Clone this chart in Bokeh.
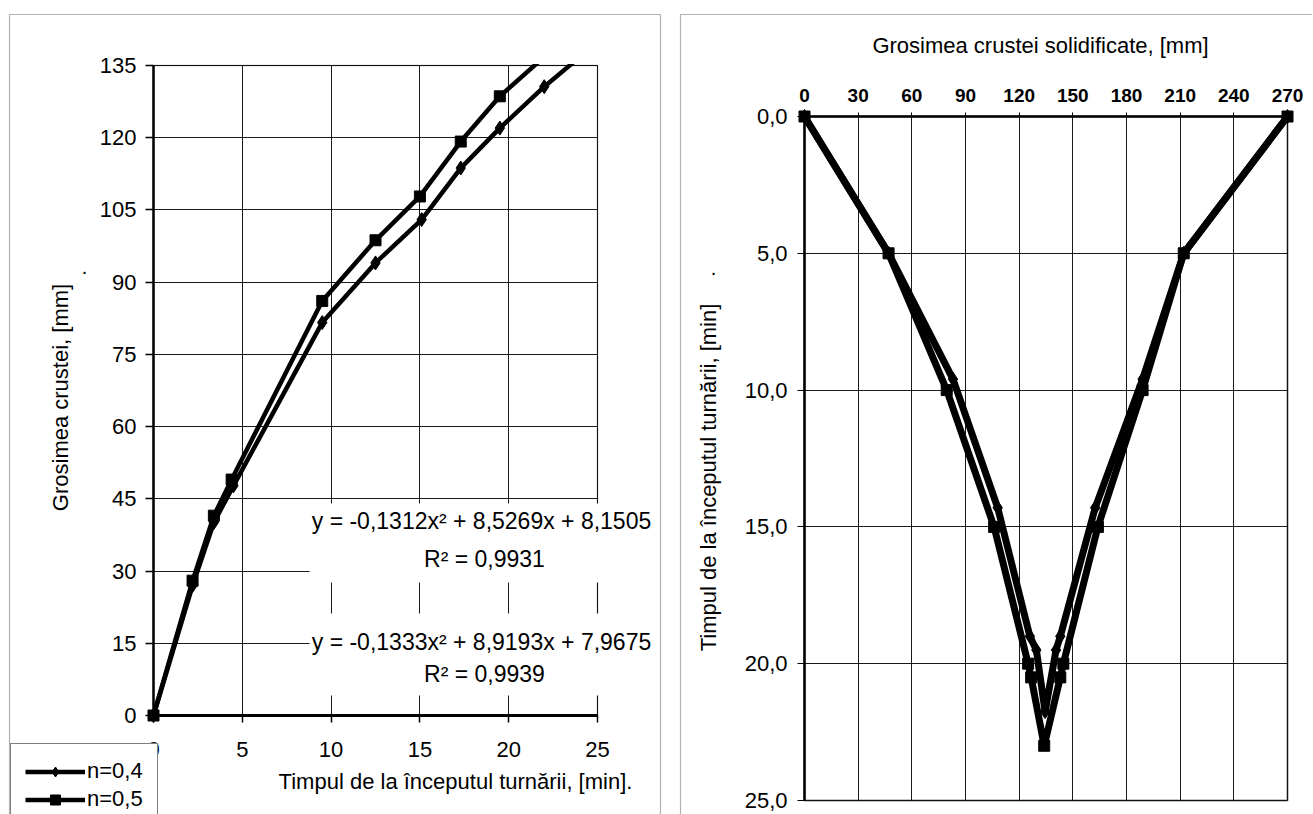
import math
from bokeh.plotting import figure
from bokeh.models import Range1d, FixedTicker, Label, Legend, LegendItem, BoxAnnotation
from bokeh.layouts import row
from bokeh.embed import file_html
from bokeh.resources import INLINE

FONT = "Liberation Sans"

# ---------------- data: left chart (crust thickness vs. time) ----------------
time_n04 = [0, 2.2, 3.4, 4.5, 9.5, 12.5, 15.1, 17.3, 19.5, 22.0, 24.5]
thick_n04 = [0, 27.0, 40.1, 47.7, 81.6, 94.0, 103.0, 113.7, 122.0, 130.6, 138.3]
time_n05 = [0, 2.2, 3.4, 4.4, 9.5, 12.5, 15.0, 17.3, 19.5, 22.0]
thick_n05 = [0, 28.0, 41.5, 49.0, 86.1, 98.7, 107.8, 119.2, 128.6, 136.8]
series_names = ["n=0,4", "n=0,5"]
x_ticks_left = [0, 5, 10, 15, 20, 25]
y_ticks_left = [0, 15, 30, 45, 60, 75, 90, 105, 120, 135]
eq_n04 = "y = -0,1312x² + 8,5269x + 8,1505"
r2_n04 = "R² = 0,9931"
eq_n05 = "y = -0,1333x² + 8,9193x + 7,9675"
r2_n05 = "R² = 0,9939"
xtitle_left = "Timpul de la începutul turnării, [min]."
ytitle_left = "Grosimea crustei, [mm]"

# ---------------- data: right chart (solidified crust profile) ----------------
time_r_n04 = [0, 5.0, 9.6, 14.3, 19.0, 19.5, 21.75]
left_r_n04 = [0, 47, 83, 108, 126, 129.6, 134.5]
right_r_n04 = [270, 212, 189, 162.5, 143, 140.6, 134.5]
time_r_n05 = [0, 5.0, 10.0, 15.0, 20.0, 20.5, 23.0]
left_r_n05 = [0, 47, 79.5, 106, 125, 126.7, 134]
right_r_n05 = [270, 212, 189, 164, 144.7, 143, 134]
x_ticks_right = [0, 30, 60, 90, 120, 150, 180, 210, 240, 270]
y_ticks_right = [0, 5, 10, 15, 20, 25]
y_labels_right = ["0,0", "5,0", "10,0", "15,0", "20,0", "25,0"]
xtitle_right = "Grosimea crustei solidificate, [mm]"
ytitle_right = "Timpul de la începutul turnării, [min]"

H = 814            # canvas height of both figures
W1, W2 = 672, 640  # canvas widths


class PageMap:
    """Maps page pixels to data coords for a figure whose frame fills its canvas."""
    def __init__(self, page_x0, width, px_lo, px_hi, vx_lo, vx_hi, py_lo, py_hi, vy_lo, vy_hi):
        self.page_x0 = page_x0
        self.width = width
        self.kx = (vx_hi - vx_lo) / (px_hi - px_lo)
        self.px_lo, self.vx_lo = px_lo, vx_lo
        self.ky = (vy_hi - vy_lo) / (py_hi - py_lo)
        self.py_lo, self.vy_lo = py_lo, vy_lo

    def x(self, px):
        return self.vx_lo + (px - self.px_lo) * self.kx

    def y(self, py):
        return self.vy_lo + (py - self.py_lo) * self.ky

    def xy(self, px, py):
        return self.x(px), self.y(py)

    def xrange(self):
        return Range1d(self.x(self.page_x0), self.x(self.page_x0 + self.width))

    def yrange(self):
        return Range1d(self.y(H), self.y(0))


def base_figure(m, x_axis_location="below"):
    p = figure(frame_width=m.width, frame_height=H, min_border=0,
               min_border_left=0, min_border_right=0, min_border_top=0, min_border_bottom=0,
               x_range=m.xrange(), y_range=m.yrange(), x_axis_location=x_axis_location,
               output_backend="svg", toolbar_location=None, tools="")
    p.background_fill_color = "white"
    p.border_fill_color = "white"
    p.outline_line_color = None
    return p


def style_axes(p):
    for ax in p.axis:
        ax.axis_line_color = "black"
        ax.major_tick_line_color = "black"
        ax.minor_tick_line_color = None
        ax.major_tick_in = 0
        ax.major_label_text_color = "black"
        ax.major_label_text_font = FONT
        ax.fixed_location = 0
    for g in p.grid:
        g.grid_line_color = "black"
        g.grid_line_width = 1
        g.grid_line_alpha = 0.9


def add_label(p, x, y, text, size="22px", angle=0.0, bold=False):
    p.add_layout(Label(x=x, y=y, text=text, text_font=FONT, text_font_size=size,
                       text_color="black", text_align="center", text_baseline="middle",
                       angle=angle, text_font_style="bold" if bold else "normal"))


def add_box(p, m, px0, py0, px1, py1, fill=None, line=None, lw=1.0):
    x0, y0 = m.xy(px0, py0)
    x1, y1 = m.xy(px1, py1)
    p.add_layout(BoxAnnotation(left=min(x0, x1), right=max(x0, x1),
                               bottom=min(y0, y1), top=max(y0, y1),
                               fill_color=fill if fill else "white",
                               fill_alpha=1 if fill else 0,
                               line_color=line, line_width=lw, level="annotation"))


# ======================= LEFT CHART =======================
# plot area on page: x 153..597 (0..25), y 715..65 (0..135)
m1 = PageMap(0, W1, 153, 597, 0, 25, 715, 65, 0, 135)
p1 = base_figure(m1)
p1.xaxis.ticker = FixedTicker(ticks=x_ticks_left)
p1.yaxis.ticker = FixedTicker(ticks=y_ticks_left)
p1.xgrid.ticker = FixedTicker(ticks=x_ticks_left)
p1.ygrid.ticker = FixedTicker(ticks=y_ticks_left)
p1.xgrid.cross_bounds = (0, 135)
p1.ygrid.cross_bounds = (0, 25)
style_axes(p1)
p1.xaxis.bounds = (0, 25)
p1.yaxis.bounds = (0, 135)
p1.xaxis.axis_line_width = 3
p1.yaxis.axis_line_width = 2.5
p1.xaxis.major_tick_out = 7
p1.yaxis.major_tick_out = 8
p1.xaxis.major_tick_line_width = 1.5
p1.yaxis.major_tick_line_width = 1.5
p1.xaxis.major_label_text_font_size = "22px"
p1.yaxis.major_label_text_font_size = "22px"
p1.xaxis.major_label_standoff = 19
p1.yaxis.major_label_standoff = 9

l04 = p1.line(time_n04, thick_n04, line_color="black", line_width=4.5)
s04 = p1.scatter(time_n04, thick_n04, marker="diamond", size=14, fill_color="black", line_color="black")
l05 = p1.line(time_n05, thick_n05, line_color="black", line_width=4.5)
s05 = p1.scatter(time_n05, thick_n05, marker="square", size=11, fill_color="black", line_color="black")

# outer chart border, mask above the plot area, plot-area border
add_box(p1, m1, 9, 14, 660, 900, line="black", lw=1.2)
add_box(p1, m1, 148, 16, 602, 63.5, fill="white")
add_box(p1, m1, 153, 65, 597, 715, line="black", lw=1.5)
# white boxes behind trendline equations
add_box(p1, m1, 309, 503, 656, 582, fill="white")
add_box(p1, m1, 309, 613, 656, 695, fill="white")

add_label(p1, *m1.xy(481, 520), eq_n04, size="23px")
add_label(p1, *m1.xy(484, 558), r2_n04, size="23px")
add_label(p1, *m1.xy(481, 641), eq_n05, size="23px")
add_label(p1, *m1.xy(484, 673), r2_n05, size="23px")
add_label(p1, *m1.xy(455, 781), xtitle_left, size="22px")
add_label(p1, *m1.xy(60, 397), ytitle_left, size="22px", angle=math.pi / 2)
add_label(p1, *m1.xy(84, 266), ".", size="20px")

# legend box: page x 10.., top at page 747, partly cut by the bottom edge
LEG_H = 14 * 2 + 25 * 2 + 2
legend = Legend(items=[LegendItem(label=series_names[0], renderers=[l04, s04]),
                       LegendItem(label=series_names[1], renderers=[l05, s05])],
                location=(10, H - 747 - LEG_H), orientation="vertical",
                label_text_font=FONT, label_text_font_size="22px", label_text_color="black",
                glyph_width=60, glyph_height=25, label_height=25, label_standoff=2,
                padding=14, spacing=2, margin=0,
                border_line_color="black", border_line_width=1.5,
                background_fill_color="white", background_fill_alpha=1)
p1.add_layout(legend, "center")

# ======================= RIGHT CHART =======================
# plot area on page: x 804..1287 (0..270), y 116..800 (0..25, downward)
m2 = PageMap(W1, W2, 804, 1287, 0, 270, 116, 800, 0, 25)
p2 = base_figure(m2, x_axis_location="above")
p2.xaxis.ticker = FixedTicker(ticks=x_ticks_right)
p2.yaxis.ticker = FixedTicker(ticks=y_ticks_right)
p2.xgrid.ticker = FixedTicker(ticks=x_ticks_right)
p2.ygrid.ticker = FixedTicker(ticks=y_ticks_right)
p2.xgrid.cross_bounds = (0, 25)
p2.ygrid.cross_bounds = (0, 270)
p2.yaxis.major_label_overrides = {t: s for t, s in zip(y_ticks_right, y_labels_right)}
style_axes(p2)
p2.xaxis.bounds = (0, 270)
p2.yaxis.bounds = (0, 25)
p2.xaxis.axis_line_width = 2.5
p2.yaxis.axis_line_width = 2.5
p2.xaxis.major_tick_out = 4
p2.yaxis.major_tick_out = 7
p2.xaxis.major_label_text_font_size = "19px"
p2.xaxis.major_label_text_font_style = "bold"
p2.yaxis.major_label_text_font_size = "22px"
p2.xaxis.major_label_standoff = 11
p2.yaxis.major_label_standoff = 10

for lx, rx, tt, mk, ms in [(left_r_n04, right_r_n04, time_r_n04, "diamond", 14),
                           (left_r_n05, right_r_n05, time_r_n05, "square", 11)]:
    xs = list(lx) + list(rx)[::-1][1:]
    ys = list(tt) + list(tt)[::-1][1:]
    p2.line(xs, ys, line_color="black", line_width=7)
    p2.scatter(xs, ys, marker=mk, size=ms, fill_color="black", line_color="black")

add_box(p2, m2, 680, 14, 1400, 900, line="black", lw=1.2)
add_box(p2, m2, 804, 116, 1287, 800, line="black", lw=2.5)

add_label(p2, *m2.xy(1040, 45), xtitle_right, size="22px")
add_label(p2, *m2.xy(708, 477), ytitle_right, size="22px", angle=math.pi / 2)
add_label(p2, *m2.xy(713, 267), ".", size="20px")

layout = row(p1, p2)
open("out.html", "w").write(file_html(layout, INLINE))
